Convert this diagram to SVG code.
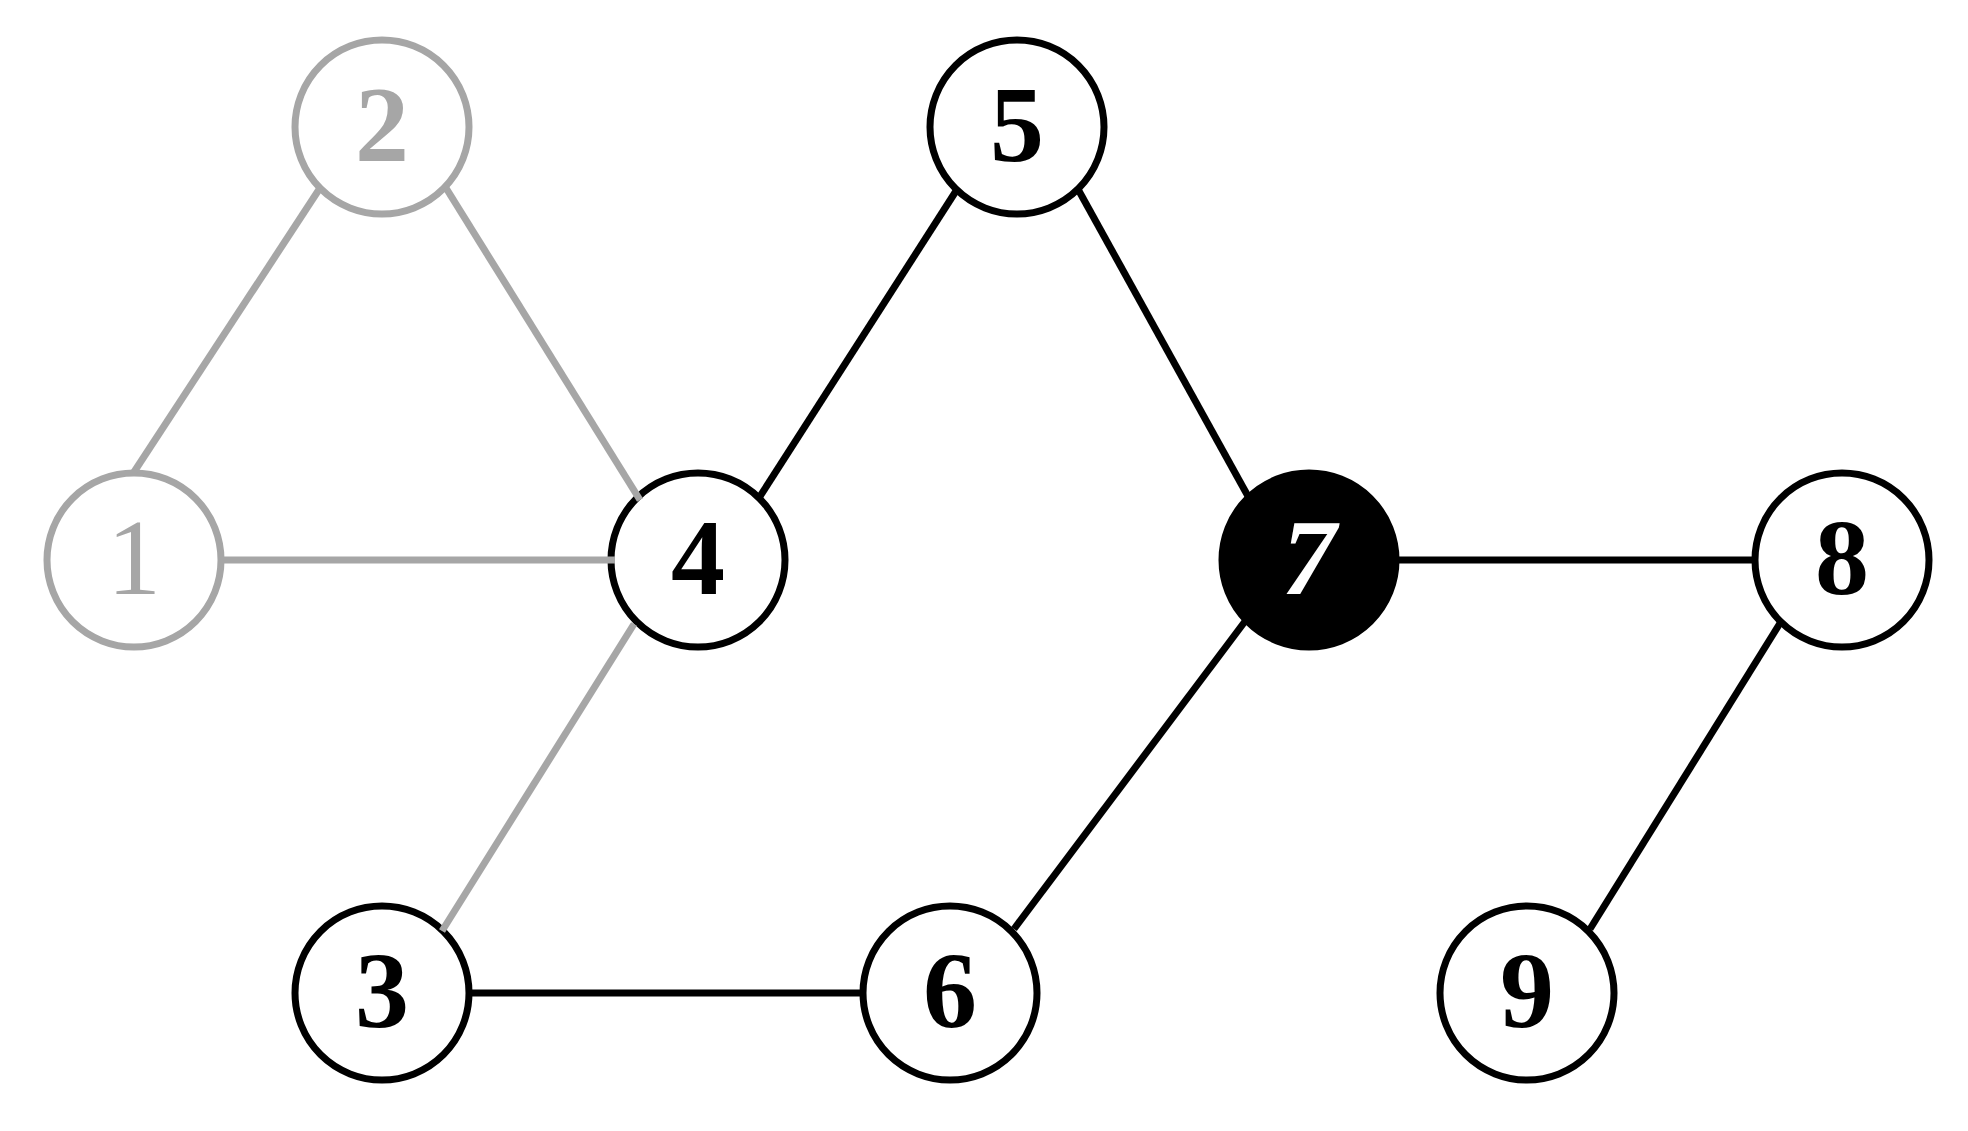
<svg xmlns="http://www.w3.org/2000/svg" width="1968" height="1131" viewBox="0 0 1968 1131">
<style>
.e{stroke-width:7;fill:none}
.g{stroke:#a6a6a6}
.b{stroke:#000}
circle{stroke-width:7;fill:#fff}
text{font-family:'Liberation Serif','Times New Roman',Times,serif;font-weight:bold;font-size:108px;text-anchor:middle}
</style>
<rect width="1968" height="1131" fill="#fff"/>
<g id="n1"><circle cx="134" cy="560" r="87" stroke="#a6a6a6"/><text x="134" y="594" fill="#a6a6a6" style="font-weight:normal">1</text></g>
<g id="n2"><circle cx="382" cy="127" r="87" stroke="#a6a6a6"/><text x="382" y="161" fill="#a6a6a6">2</text></g>
<g id="n5"><circle cx="1017" cy="127" r="87" stroke="#000"/><text x="1017" y="161">5</text></g>
<g id="n4"><circle cx="698" cy="560" r="87" stroke="#000"/><text x="698" y="594">4</text></g>
<g id="n7"><circle cx="1309" cy="560" r="87" stroke="#000" style="fill:#000"/><text x="1309" y="594" fill="#fff" style="font-style:italic">7</text></g>
<g id="n8"><circle cx="1842" cy="560" r="87" stroke="#000"/><text x="1842" y="594">8</text></g>
<g id="n3"><circle cx="382" cy="993" r="87" stroke="#000"/><text x="382" y="1027">3</text></g>
<g id="n6"><circle cx="950" cy="993" r="87" stroke="#000"/><text x="950" y="1027">6</text></g>
<g id="n9"><circle cx="1527" cy="993" r="87" stroke="#000"/><text x="1527" y="1027">9</text></g>
<g id="edges">
<line class="e b" x1="759" y1="498" x2="956" y2="191"/>
<line class="e b" x1="1079" y1="191" x2="1249" y2="498"/>
<line class="e b" x1="1397" y1="560" x2="1755" y2="560"/>
<line class="e b" x1="1246" y1="620" x2="1014" y2="929"/>
<line class="e b" x1="469" y1="993" x2="863" y2="993"/>
<line class="e b" x1="1782" y1="620" x2="1590" y2="929"/>
<line class="e g" x1="134" y1="472" x2="320" y2="188"/>
<line class="e g" x1="446" y1="188" x2="640" y2="500"/>
<line class="e g" x1="222" y1="560" x2="615" y2="560"/>
<line class="e g" x1="634" y1="624" x2="442" y2="931"/>
</g>
</svg>
